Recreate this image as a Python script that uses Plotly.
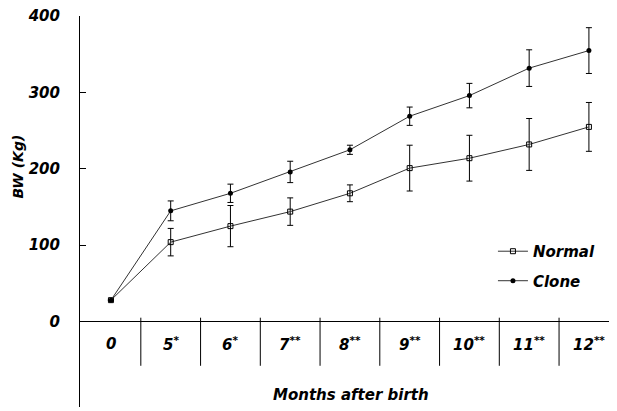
import plotly.graph_objects as go

months = ["0", "5", "6", "7", "8", "9", "10", "11", "12"]
stars = ["", "*", "*", "**", "**", "**", "**", "**", "**"]
normal = [28, 104, 125, 144, 168, 201, 214, 232, 255]
normal_err = [0, 18, 27, 18, 11, 30, 30, 34, 32]
clone = [28, 145, 168, 196, 225, 269, 296, 332, 355]
clone_err = [0, 13, 12, 14, 6, 12, 16, 24, 30]

xi = list(range(len(months)))
FONT = "DejaVu Sans"
TXT = dict(family=FONT, size=15, color="black", weight="bold", style="italic")

fig = go.Figure()
fig.add_trace(go.Scatter(
    x=xi, y=normal, name="Normal", mode="lines+markers", legendgroup="n",
    line=dict(color="#333333", width=1),
    marker=dict(symbol="square-open", size=5, color="black", line=dict(width=1)),
    error_y=dict(type="data", array=normal_err, visible=True, color="black", thickness=1, width=3),
))
fig.add_trace(go.Scatter(
    x=xi, y=clone, name="Clone", mode="lines+markers", legendgroup="c",
    line=dict(color="#333333", width=1),
    marker=dict(symbol="circle", size=5, color="black"),
    error_y=dict(type="data", array=clone_err, visible=True, color="black", thickness=1, width=3),
))

# separators between month categories
for i in range(len(months) - 1):
    fig.add_shape(type="line", xref="x", yref="y", x0=i + 0.5, x1=i + 0.5, y0=5, y1=-58,
                  line=dict(color="black", width=1))

# category labels
for i, (m, s) in enumerate(zip(months, stars)):
    txt = m + (f"<sup>{s}</sup>" if s else "")
    fig.add_annotation(x=i, y=-30, xref="x", yref="y", text=txt, showarrow=False, font=TXT)

fig.add_annotation(x=4.01, y=-96, xref="x", yref="y", text="Months after birth",
                   showarrow=False, font=TXT)
fig.add_annotation(x=(18 - 80) / 537, y=203, xref="paper", yref="y", text="BW (Kg)",
                   textangle=-90, showarrow=False, xanchor="center", yanchor="middle",
                   font=dict(TXT, size=14))

fig.update_layout(
    width=609, height=403,
    margin=dict(l=72, r=0, t=8, b=4),
    paper_bgcolor="white", plot_bgcolor="white",
    showlegend=True,
    legend=dict(x=0.769, y=0.44, xanchor="left", yanchor="top", tracegroupgap=7,
                bgcolor="rgba(0,0,0,0)", font=TXT),
    xaxis=dict(range=[-0.518, 8.47], showgrid=False, showticklabels=False, ticks="",
               zeroline=False, showline=False, automargin=False),
    yaxis=dict(range=[-112, 400.3], tickvals=[0, 100, 200, 300, 400], showgrid=False,
               zeroline=True, zerolinecolor="black", zerolinewidth=1,
               showline=True, linecolor="black", linewidth=1, automargin=False,
               ticks="inside", ticklen=6, tickcolor="black", ticklabelstandoff=16,
               ticklabeloverflow="allow", tickfont=TXT),
)

fig.write_html("out.html")
